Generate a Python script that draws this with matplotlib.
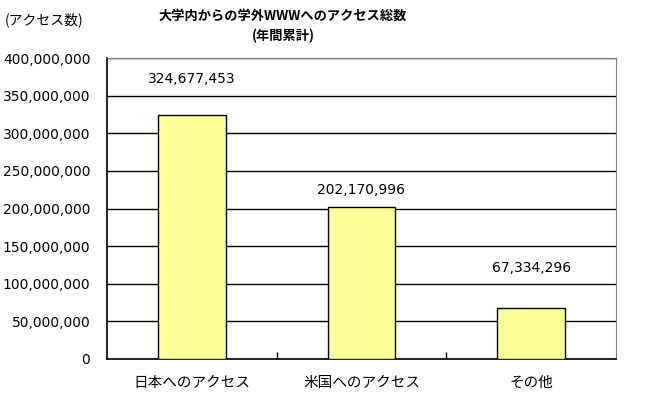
import matplotlib.pyplot as plt
from matplotlib.ticker import FuncFormatter, FixedLocator

plt.rcParams['font.family'] = ['Noto Sans CJK JP', 'DejaVu Sans']

# data
categories = ['日本へのアクセス', '米国へのアクセス', 'その他']
access_counts = [324677453, 202170996, 67334296]
value_labels = ['324,677,453', '202,170,996', '67,334,296']

# label offsets above bar tops (pixels), as placed in the original
label_offsets = [36, 17, 40]

fig = plt.figure(figsize=(6.49, 3.97), dpi=100)
ax = fig.add_axes((107 / 649, 38 / 397, 509 / 649, 301 / 397))

x = range(len(categories))
ax.bar(x, access_counts, width=0.4, color='#FFFF99', edgecolor='black', linewidth=1, zorder=3)

ax.set_xlim(-0.5, len(categories) - 0.5)
ax.set_ylim(0, 400000000)
ax.set_yticks(range(0, 400000001, 50000000))
ax.yaxis.set_major_formatter(FuncFormatter(lambda v, p: f"{int(v):,}"))
ax.tick_params(axis='y', length=0, labelsize=10, pad=12)
for lbl in ax.get_yticklabels():
    lbl.set_family('DejaVu Sans')

ax.grid(True, axis='y', color='black', linewidth=1, zorder=1)

# category labels at bar centres, tick marks between categories
ax.set_xticks(list(x))
ax.set_xticklabels(categories, fontsize=10.5)
ax.tick_params(axis='x', length=0, pad=12)
ax.xaxis.set_minor_locator(FixedLocator([0.5, 1.5]))
ax.tick_params(axis='x', which='minor', direction='in', length=5, width=1, color='black')

for side in ['top', 'right']:
    ax.spines[side].set_color('#808080')
for side in ['left', 'bottom']:
    ax.spines[side].set_color('black')
    ax.spines[side].set_linewidth(1.2)

for i, (v, txt) in enumerate(zip(access_counts, value_labels)):
    ax.annotate(txt, (i, v), xytext=(0, label_offsets[i]), textcoords='offset pixels',
                ha='center', va='center', fontsize=10, family='DejaVu Sans')

fig.text(283 / 649, 1 - 16 / 397, '大学内からの学外WWWへのアクセス総数', ha='center', va='center',
         fontsize=9.5, fontweight='bold')
fig.text(283 / 649, 1 - 36 / 397, '(年間累計)', ha='center', va='center',
         fontsize=9.5, fontweight='bold')
fig.text(5 / 649, 1 - 20 / 397, '(アクセス数)', ha='left', va='center', fontsize=10)

fig.savefig('out.png', dpi=100)
